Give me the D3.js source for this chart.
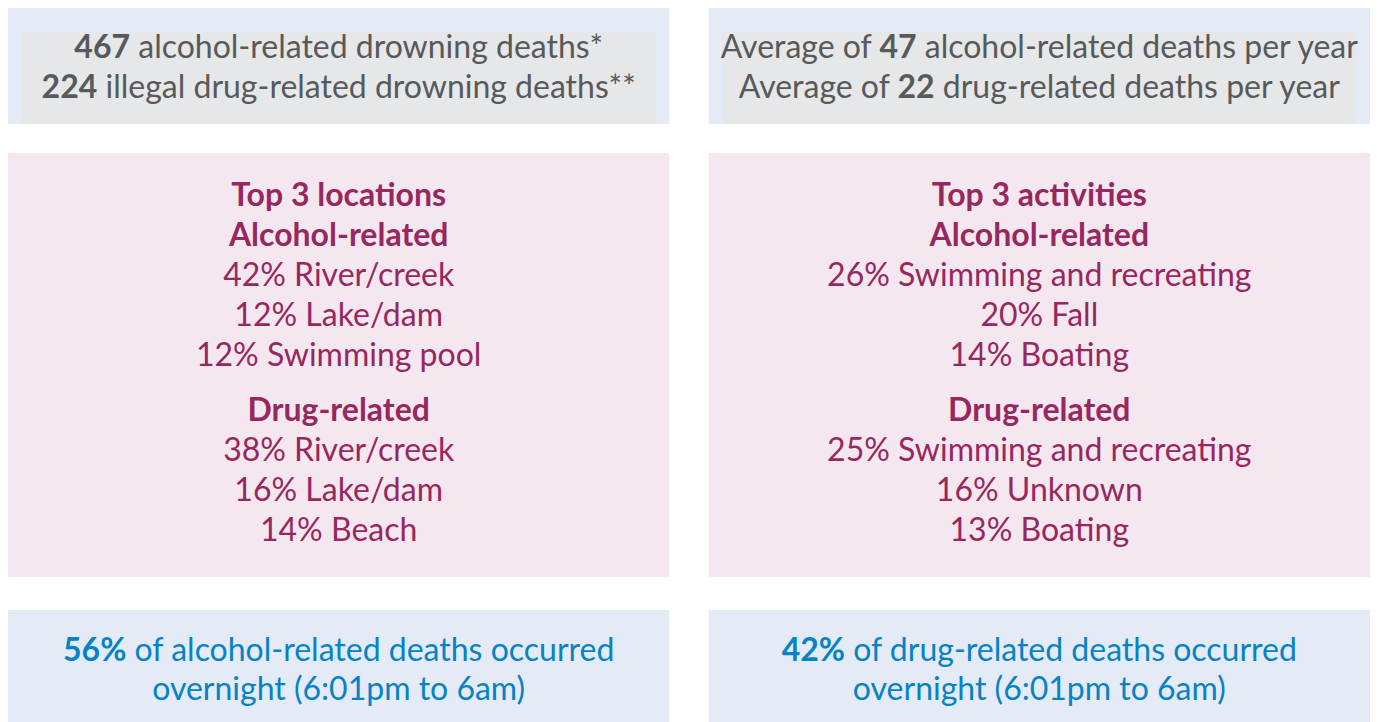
<!DOCTYPE html>
<html>
<head>
<meta charset="utf-8">
<script src="https://cdn.jsdelivr.net/npm/d3@7"></script>
<style>
  body { margin: 0; background: #fff; }
  text { font-family: Lato, "Open Sans", sans-serif; }
</style>
</head>
<body>
<div id="canvas"></div>
<script>
"use strict"

/* data */
let columns = ["left", "right"];

let totalDeaths = [467, 224];
let averagePerYear = [47, 22];

let topLabels = ["Top 3 locations", "Top 3 activities"];

let alcoholLocations = [[42, "River/creek"], [12, "Lake/dam"], [12, "Swimming pool"]];
let drugLocations = [[38, "River/creek"], [16, "Lake/dam"], [14, "Beach"]];
let alcoholActivities = [[26, "Swimming and recreating"], [20, "Fall"], [14, "Boating"]];
let drugActivities = [[25, "Swimming and recreating"], [16, "Unknown"], [13, "Boating"]];

let overnightShare = [56, 42];

let width = 1377, height = 722;
let fontSize = 32;

let drawing = d3.select("#canvas")
    .append("svg")
    .attr("width", width)
    .attr("height", height);

// two columns of panels
let x = d3.scaleBand()
    .domain(columns)
    .range([8, 1370])
    .paddingInner(0.056);

let grey = "#58595b";
let plum = "#97275e";
let blue = "#0583c6";

// ---- top row: blue panel with grey box inside
drawing.selectAll(".topPanel")
    .data(columns)
    .join("rect")
    .attr("class", "topPanel")
    .attr("x", d => x(d))
    .attr("y", 8)
    .attr("width", x.bandwidth())
    .attr("height", 116)
    .attr("fill", "#e4eaf6");

drawing.selectAll(".topBox")
    .data(columns)
    .join("rect")
    .attr("class", "topBox")
    .attr("x", d => x(d) + 14)
    .attr("y", 32)
    .attr("width", x.bandwidth() - 28)
    .attr("height", 92)
    .attr("fill", "#e6e7e8");

// helper: a line of text made of [text, bold] pieces
function addLine(cx, y, pieces, color) {
    let t = drawing.append("text")
        .attr("x", cx)
        .attr("y", y)
        .attr("text-anchor", "middle")
        .attr("fill", color)
        .attr("font-size", fontSize);
    pieces.forEach(p => {
        t.append("tspan")
            .attr("font-weight", p[1] ? "bold" : "normal")
            .text(p[0]);
    });
    return t;
}

let cxL = x("left") + x.bandwidth() / 2;
let cxR = x("right") + x.bandwidth() / 2;

addLine(cxL, 58, [[totalDeaths[0], true], [" alcohol-related drowning deaths*", false]], grey);
addLine(cxL, 98, [[totalDeaths[1], true], [" illegal drug-related drowning deaths**", false]], grey);

addLine(cxR, 58, [["Average of ", false], [averagePerYear[0], true], [" alcohol-related deaths per year", false]], grey);
addLine(cxR, 98, [["Average of ", false], [averagePerYear[1], true], [" drug-related deaths per year", false]], grey);

// ---- middle row: pink panels with the top-3 lists
drawing.selectAll(".midPanel")
    .data(columns)
    .join("rect")
    .attr("class", "midPanel")
    .attr("x", d => x(d))
    .attr("y", 153)
    .attr("width", x.bandwidth())
    .attr("height", 424)
    .attr("fill", "#f4e7ef");

function topList(cx, title, alcohol, drug) {
    addLine(cx, 206, [[title, true]], plum);
    addLine(cx, 246, [["Alcohol-related", true]], plum);
    alcohol.forEach((d, i) => {
        addLine(cx, 286 + i * 40, [[d[0] + "% " + d[1], false]], plum);
    });
    addLine(cx, 421, [["Drug-related", true]], plum);
    drug.forEach((d, i) => {
        addLine(cx, 461 + i * 40, [[d[0] + "% " + d[1], false]], plum);
    });
}

topList(cxL, topLabels[0], alcoholLocations, drugLocations);
topList(cxR, topLabels[1], alcoholActivities, drugActivities);

// ---- bottom row: overnight share
drawing.selectAll(".botPanel")
    .data(columns)
    .join("rect")
    .attr("class", "botPanel")
    .attr("x", d => x(d))
    .attr("y", 610)
    .attr("width", x.bandwidth())
    .attr("height", 112)
    .attr("fill", "#e4eaf6");

addLine(cxL, 661, [[overnightShare[0] + "%", true], [" of alcohol-related deaths occurred", false]], blue);
addLine(cxL, 700, [["overnight (6:01pm to 6am)", false]], blue);

addLine(cxR, 661, [[overnightShare[1] + "%", true], [" of drug-related deaths occurred", false]], blue);
addLine(cxR, 700, [["overnight (6:01pm to 6am)", false]], blue);
</script>
</body>
</html>
